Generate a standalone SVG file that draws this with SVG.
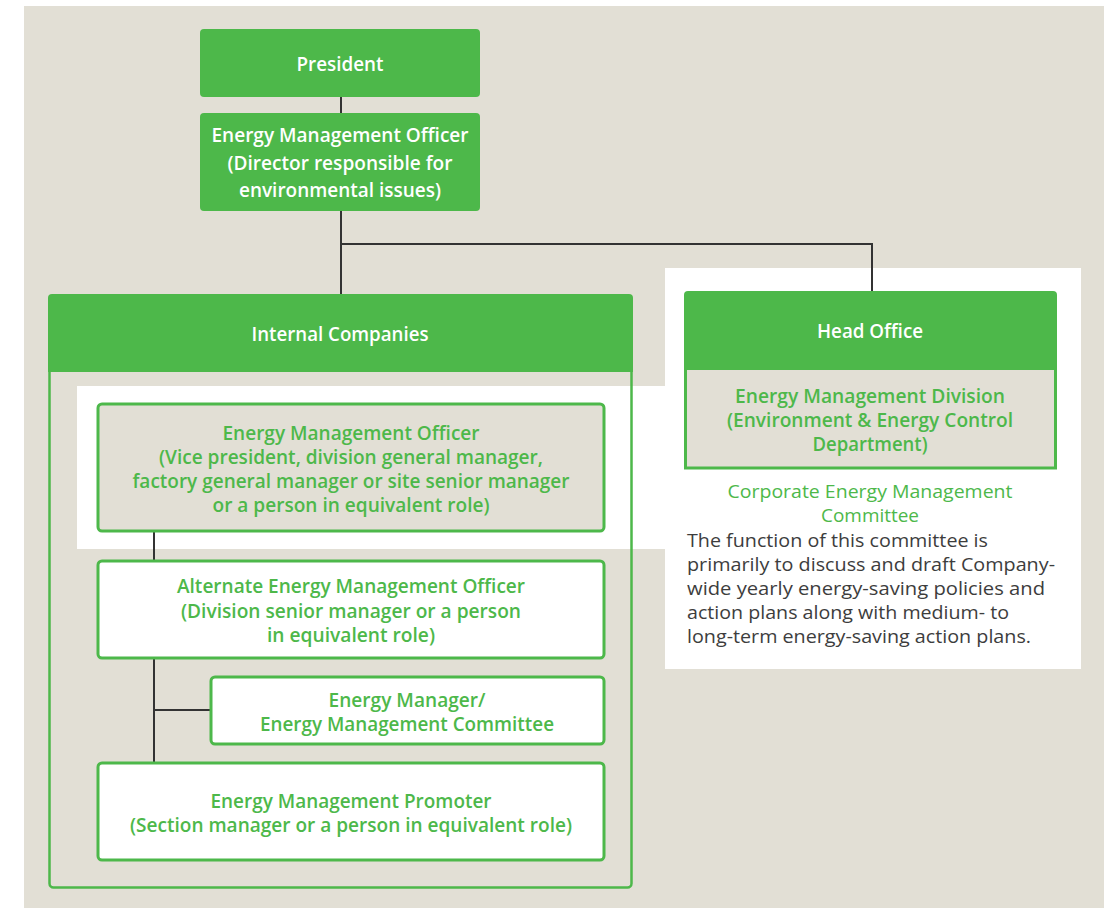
<svg xmlns="http://www.w3.org/2000/svg" width="1118" height="908" viewBox="0 0 1118 908">
<style>
.bg{fill:#e2dfd5}
.wh{fill:#ffffff}
.gfill{fill:#4db84a}
.gbox{fill:#ffffff;stroke:#4db84a;stroke-width:3}
.gboxb{fill:#e2dfd5;stroke:#4db84a;stroke-width:3}
.cont{fill:none;stroke:#4db84a;stroke-width:2.5}
.conn{fill:none;stroke:#333333;stroke-width:2}
text{font-family:"Open Sans","Liberation Sans",sans-serif;font-size:19px}
.tw{fill:#ffffff;font-weight:600;text-anchor:middle}
.tg{fill:#4db84a;font-weight:600;text-anchor:middle}
.tgr{fill:#4db84a;font-weight:400;text-anchor:middle}
.tb{fill:#3d3d3d;font-weight:400}
</style>
<rect class="bg" x="24" y="6" width="1080" height="902"/>
<rect class="wh" x="665" y="268" width="416" height="401"/>
<rect class="wh" x="77" y="386" width="588" height="163"/>

<g id="connectors">
<path class="conn" d="M341 97 V113"/>
<path class="conn" d="M341 211 V294"/>
<path class="conn" d="M341 244 H872 V291"/>
<path class="conn" d="M154 532 V560"/>
<path class="conn" d="M154 658 V762"/>
<path class="conn" d="M154 710 H211"/>
</g>

<g id="president">
<rect class="gfill" x="200" y="29" width="280" height="68" rx="4"/>
<text class="tw" x="340" y="71" textLength="87" lengthAdjust="spacingAndGlyphs">President</text>
</g>

<g id="emo-top">
<rect class="gfill" x="200" y="113" width="280" height="98" rx="4"/>
<text class="tw" x="340" y="142" textLength="257" lengthAdjust="spacingAndGlyphs">Energy Management Officer</text>
<text class="tw" x="340" y="170" textLength="225" lengthAdjust="spacingAndGlyphs">(Director responsible for</text>
<text class="tw" x="340" y="197" textLength="202" lengthAdjust="spacingAndGlyphs">environmental issues)</text>
</g>

<g id="internal-companies">
<rect class="cont" x="49.5" y="296" width="582" height="591.5" rx="4"/>
<path class="gfill" d="M48 372 V298 Q48 294 52 294 H629 Q633 294 633 298 V372 Z"/>
<text class="tw" x="340" y="341" textLength="177" lengthAdjust="spacingAndGlyphs">Internal Companies</text>
</g>

<g id="emo-internal">
<rect class="gboxb" x="98" y="404" width="506" height="127" rx="4"/>
<text class="tg" x="351" y="440" textLength="257" lengthAdjust="spacingAndGlyphs">Energy Management Officer</text>
<text class="tg" x="351" y="464" textLength="384" lengthAdjust="spacingAndGlyphs">(Vice president, division general manager,</text>
<text class="tg" x="351" y="488" textLength="437" lengthAdjust="spacingAndGlyphs">factory general manager or site senior manager</text>
<text class="tg" x="351" y="512" textLength="277" lengthAdjust="spacingAndGlyphs">or a person in equivalent role)</text>
</g>

<g id="alternate-emo">
<rect class="gbox" x="98" y="561" width="506" height="97" rx="4"/>
<text class="tg" x="351" y="593" textLength="348" lengthAdjust="spacingAndGlyphs">Alternate Energy Management Officer</text>
<text class="tg" x="351" y="618" textLength="340" lengthAdjust="spacingAndGlyphs">(Division senior manager or a person</text>
<text class="tg" x="351" y="642" textLength="168" lengthAdjust="spacingAndGlyphs">in equivalent role)</text>
</g>

<g id="energy-manager">
<rect class="gbox" x="211" y="677" width="393" height="67" rx="4"/>
<text class="tg" x="407" y="707" textLength="157" lengthAdjust="spacingAndGlyphs">Energy Manager/</text>
<text class="tg" x="407" y="731" textLength="294" lengthAdjust="spacingAndGlyphs">Energy Management Committee</text>
</g>

<g id="promoter">
<rect class="gbox" x="98" y="763" width="506" height="97" rx="4"/>
<text class="tg" x="351" y="808" textLength="281" lengthAdjust="spacingAndGlyphs">Energy Management Promoter</text>
<text class="tg" x="351" y="832" textLength="442" lengthAdjust="spacingAndGlyphs">(Section manager or a person in equivalent role)</text>
</g>

<g id="head-office">
<rect class="gboxb" x="685.5" y="368" width="370" height="100"/>
<path class="gfill" d="M684 370 V295 Q684 291 688 291 H1053 Q1057 291 1057 295 V370 Z"/>
<text class="tw" x="870" y="338" textLength="106" lengthAdjust="spacingAndGlyphs">Head Office</text>
<text class="tg" x="870" y="403" textLength="270" lengthAdjust="spacingAndGlyphs">Energy Management Division</text>
<text class="tg" x="870" y="427" textLength="286" lengthAdjust="spacingAndGlyphs">(Environment &amp; Energy Control</text>
<text class="tg" x="870" y="451" textLength="115" lengthAdjust="spacingAndGlyphs">Department)</text>
</g>

<g id="committee-note">
<text class="tgr" x="870" y="498" textLength="285" lengthAdjust="spacingAndGlyphs">Corporate Energy Management</text>
<text class="tgr" x="870" y="522" textLength="98" lengthAdjust="spacingAndGlyphs">Committee</text>
<text class="tb" x="687" y="547" textLength="301" lengthAdjust="spacingAndGlyphs">The function of this committee is</text>
<text class="tb" x="687" y="571" textLength="368" lengthAdjust="spacingAndGlyphs">primarily to discuss and draft Company-</text>
<text class="tb" x="687" y="595" textLength="358" lengthAdjust="spacingAndGlyphs">wide yearly energy-saving policies and</text>
<text class="tb" x="687" y="619" textLength="322" lengthAdjust="spacingAndGlyphs">action plans along with medium- to</text>
<text class="tb" x="687" y="643" textLength="344" lengthAdjust="spacingAndGlyphs">long-term energy-saving action plans.</text>
</g>
</svg>
